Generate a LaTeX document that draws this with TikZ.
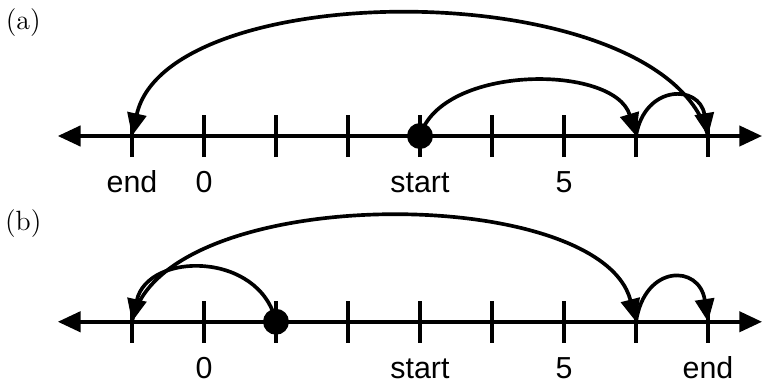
\documentclass[tikz,border=0pt]{standalone}
\usepackage{fontspec}
\setsansfont{Liberation Sans}
\usetikzlibrary{positioning,arrows.meta}

\begin{document}
\begin{tikzpicture}[line width=1.45pt,
    jump/.style={-{Triangle[length=9pt,width=7.5pt]}},
    axis/.style={{Triangle[length=9pt,width=8pt]}-{Triangle[length=9pt,width=8pt]}},
    lbl/.style={font=\sffamily\fontsize{12}{14}\selectfont,inner sep=0pt,text height=8.6pt,text depth=0pt}]
    \useasboundingbox (-2.833,0) rectangle (7.819,5.319);

    % (a)
    \node[font=\fontsize{11}{13}\selectfont] (tagA) at (-2.51,5.0) {(a)};
    \foreach \v in {-1,...,7} {
        \coordinate (a\v) at (\v,3.43);
        \draw ([yshift=-8.3pt]a\v) -- ([yshift=8.3pt]a\v);
    }
    \coordinate (aL) at (-2.03,3.43);
    \coordinate (aR) at (7.75,3.43);
    \draw[axis] (aL) -- (aR);
    \draw[jump] (a3) .. controls +(0.3,1.0) and +(-0.3,1.0) .. (a6);
    \draw[jump] (a6) .. controls +(0.12,0.72) and +(-0.12,0.72) .. (a7);
    \draw[jump] (a7) .. controls +(-0.6,2.25) and +(0.5,2.25) .. (a-1);
    \fill (a3) circle (0.18);
    \node[lbl,below=0.46cm of a-1] (endA) {end};
    \node[lbl,below=0.46cm of a0] (zeroA) {0};
    \node[lbl,below=0.46cm of a3] (startA) {start};
    \node[lbl,below=0.46cm of a5] (fiveA) {5};

    % (b)
    \node[font=\fontsize{11}{13}\selectfont] (tagB) at (-2.51,2.22) {(b)};
    \foreach \v in {-1,...,7} {
        \coordinate (b\v) at (\v,0.85);
        \draw ([yshift=-8.3pt]b\v) -- ([yshift=8.3pt]b\v);
    }
    \coordinate (bL) at (-2.03,0.85);
    \coordinate (bR) at (7.75,0.85);
    \draw[axis] (bL) -- (bR);
    \draw[jump] (b1) .. controls +(-0.22,0.98) and +(0.22,0.98) .. (b-1);
    \draw[jump] (b-1) .. controls +(0.4,1.94) and +(-0.5,1.94) .. (b6);
    \draw[jump] (b6) .. controls +(0.12,0.8) and +(-0.12,0.8) .. (b7);
    \fill (b1) circle (0.18);
    \node[lbl,below=0.46cm of b0] (zeroB) {0};
    \node[lbl,below=0.46cm of b3] (startB) {start};
    \node[lbl,below=0.46cm of b5] (fiveB) {5};
    \node[lbl,below=0.46cm of b7] (endB) {end};
\end{tikzpicture}
\end{document}
